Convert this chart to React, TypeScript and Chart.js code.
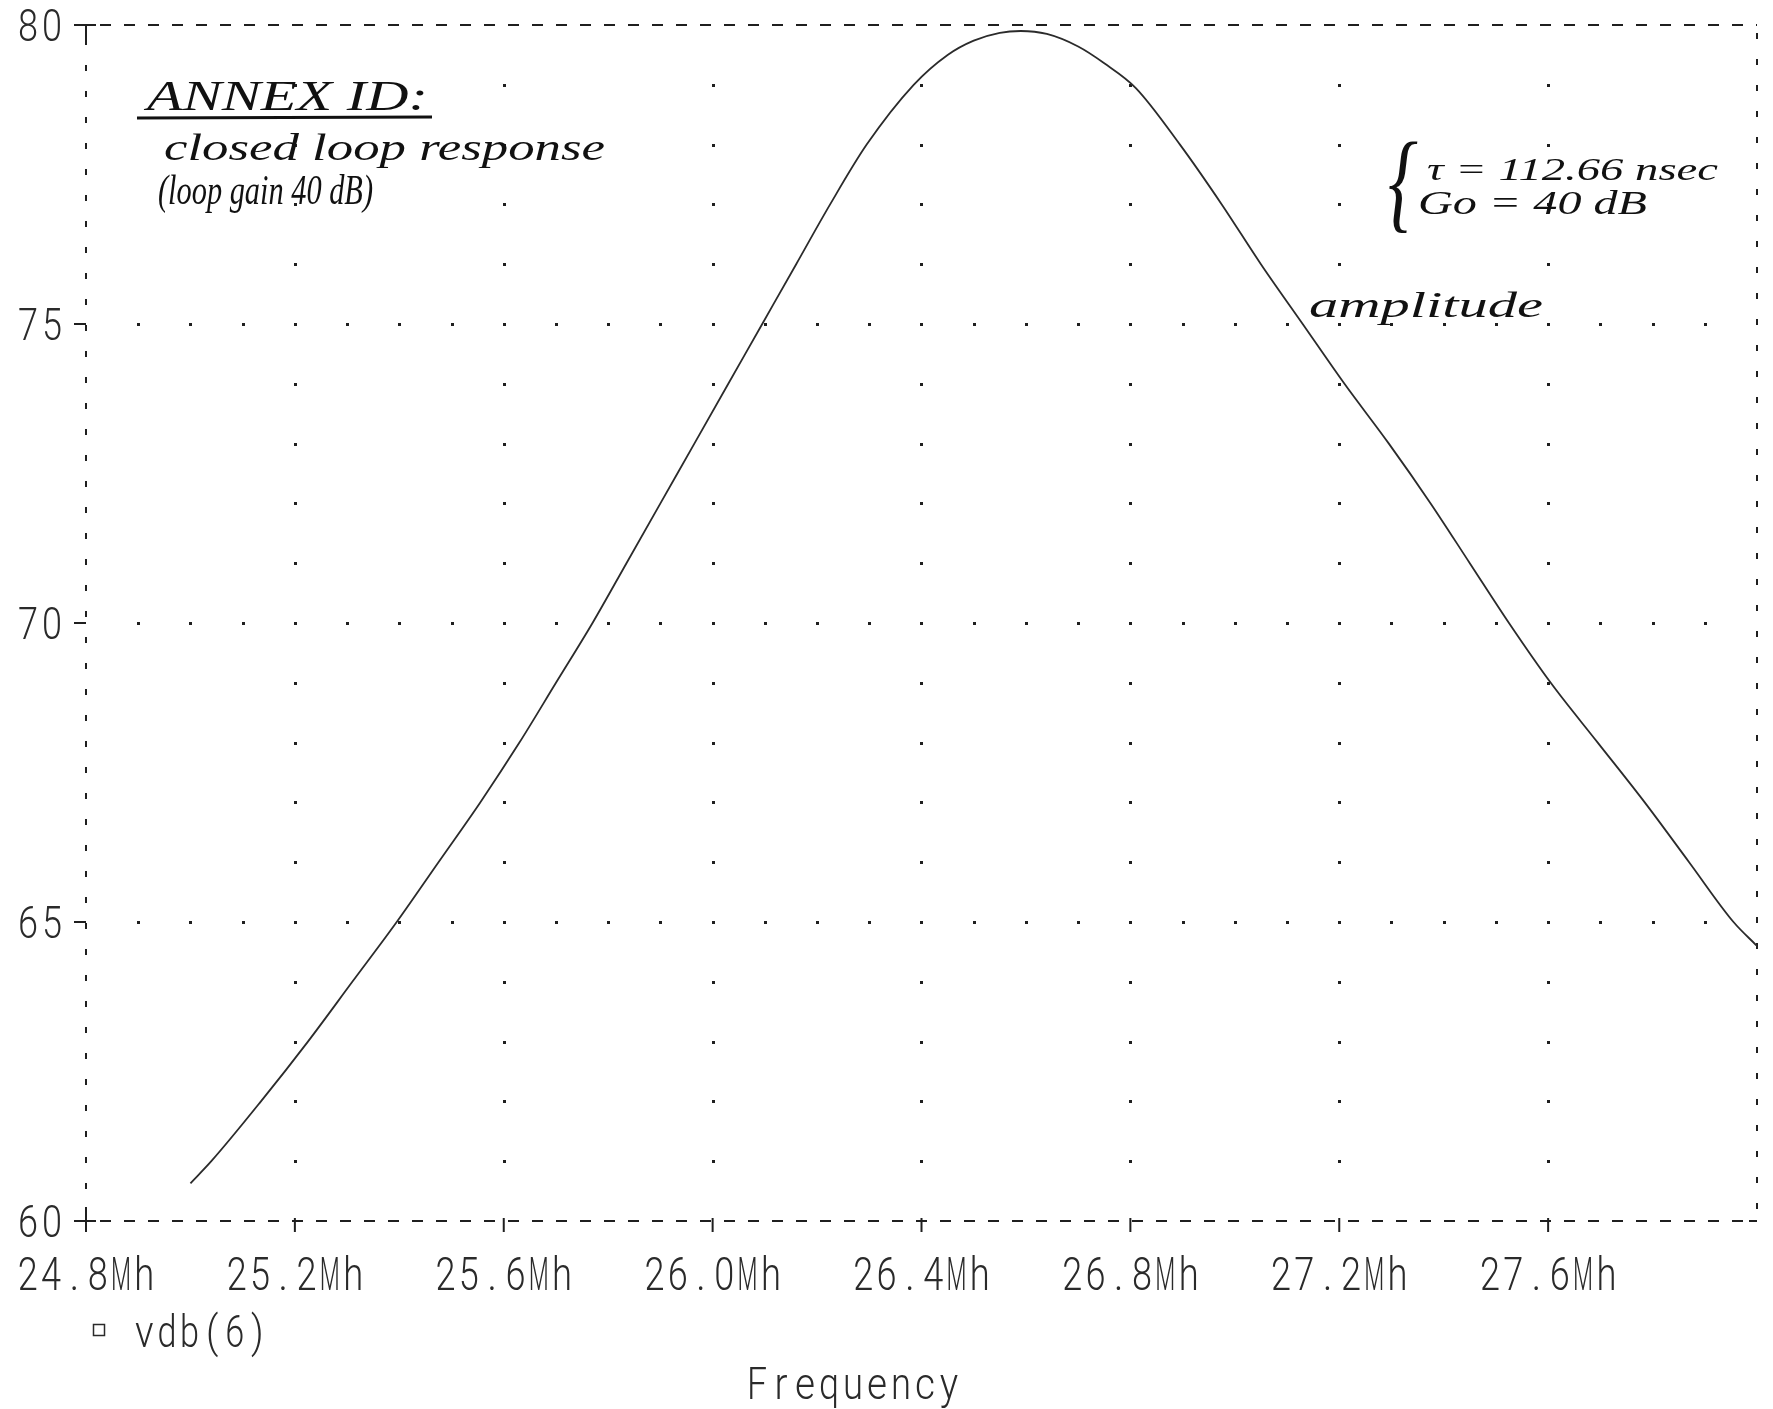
import React, { useEffect, useRef } from 'react';
import { Chart, registerables } from 'chart.js';

Chart.register(...registerables);

// ---- data ----
const FREQ_MHZ = [
  25.0, 25.04, 25.135, 25.225, 25.31, 25.395, 25.475, 25.555, 25.63, 25.7, 25.77, 25.835, 25.9,
  25.965, 26.03, 26.095, 26.16, 26.225, 26.295, 26.385, 26.45, 26.5, 26.55, 26.59, 26.64, 26.7,
  26.75, 26.81, 26.895, 26.975, 27.05, 27.13, 27.21, 27.295, 27.375, 27.45, 27.525, 27.605,
  27.695, 27.785, 27.87, 27.955, 28.0,
];
const VDB = [
  60.63, 61.0, 62.0, 63.0, 64.0, 65.0, 66.0, 67.0, 68.0, 69.0, 70.0, 71.0, 72.0,
  73.0, 74.0, 75.0, 76.0, 77.0, 78.0, 79.0, 79.5, 79.74, 79.87, 79.9, 79.85, 79.64,
  79.36, 78.95, 78.0, 77.0, 76.0, 75.0, 74.0, 73.0, 72.0, 71.0, 70.0, 69.0,
  68.0, 67.0, 66.0, 65.0, 64.6,
];
const X_TICKS = [24.8, 25.2, 25.6, 26.0, 26.4, 26.8, 27.2, 27.6];
const X_TICK_LABELS = ['24.8Mh', '25.2Mh', '25.6Mh', '26.0Mh', '26.4Mh', '26.8Mh', '27.2Mh', '27.6Mh'];
const Y_TICKS = [60, 65, 70, 75, 80];
const Y_TICK_LABELS = ['60', '65', '70', '75', '80'];
const GRID_COLS_MHZ = [25.2, 25.6, 26.0, 26.4, 26.8, 27.2, 27.6];
const GRID_ROWS_DB = [65, 70, 75];
const X_MIN = 24.8;
const X_MAX = 28.0;
const Y_MIN = 60;
const Y_MAX = 80;
const SERIES_LABEL = 'vdb(6)';
const X_TITLE = 'Frequency';
const NOTE_TITLE = 'ANNEX ID:';
const NOTE_LINE1 = 'closed loop response';
const NOTE_LINE2 = '(loop gain 40 dB)';
const NOTE_TAU = 'τ = 112.66 nsec';
const NOTE_GAIN = 'Go = 40 dB';
const NOTE_CURVE = 'amplitude';

// ---- styles ----
const W = 1773;
const H = 1409;
const INK = '#1f1f1f';
const TEXT_INK = '#2a2a2a';
const CURVE = '#2b2b2b';
const MONO = "'Roboto', 'DejaVu Sans', sans-serif";
const HAND = "'Liberation Serif', 'DejaVu Serif', serif";

function glyphRow(
  ctx: CanvasRenderingContext2D,
  text: string,
  startX: number,
  baseline: number,
  pitch: number,
  size: number,
  maxGlyph: number
) {
  ctx.font = `300 ${size}px ${MONO}`;
  ctx.textAlign = 'center';
  ctx.textBaseline = 'alphabetic';
  for (let i = 0; i < text.length; i++) {
    const ch = text[i];
    const w = ctx.measureText(ch).width || 1;
    const sx = Math.min(0.88, maxGlyph / w);
    ctx.save();
    ctx.translate(startX + pitch * (i + 0.5), baseline);
    ctx.scale(sx, 1);
    ctx.fillText(ch, 0, 0);
    ctx.restore();
  }
}

function fitText(
  ctx: CanvasRenderingContext2D,
  text: string,
  x: number,
  baseline: number,
  width: number,
  font: string
) {
  ctx.font = font;
  ctx.textAlign = 'left';
  ctx.textBaseline = 'alphabetic';
  const w = ctx.measureText(text).width || 1;
  ctx.save();
  ctx.translate(x, baseline);
  ctx.scale(width / w, 1);
  ctx.fillText(text, 0, 0);
  ctx.restore();
}

function seg(ctx: CanvasRenderingContext2D, x1: number, y1: number, x2: number, y2: number) {
  ctx.beginPath();
  ctx.moveTo(x1, y1);
  ctx.lineTo(x2, y2);
  ctx.stroke();
}

const plotDecor = {
  id: 'plotDecor',
  beforeDatasetsDraw(chart: any) {
    const { ctx, chartArea: a, scales } = chart;
    const x = scales.x;
    const y = scales.y;
    ctx.save();
    // dotted grid
    ctx.fillStyle = INK;
    for (const gx of GRID_COLS_MHZ) {
      const px = Math.round(x.getPixelForValue(gx));
      for (let v = Y_MIN + 1; v <= Y_MAX - 1; v++) {
        const py = Math.round(y.getPixelForValue(v));
        ctx.fillRect(px - 1, py - 1, 3, 3);
      }
    }
    for (const gy of GRID_ROWS_DB) {
      const py = Math.round(y.getPixelForValue(gy));
      for (let k = Math.round(X_MIN * 10) + 1; k <= Math.round(X_MAX * 10) - 1; k++) {
        const px = Math.round(x.getPixelForValue(k / 10));
        ctx.fillRect(px - 1, py - 1, 3, 3);
      }
    }
    // dashed frame
    ctx.strokeStyle = INK;
    ctx.lineWidth = 2;
    ctx.setLineDash([11, 13]);
    seg(ctx, a.left + 14, a.top, a.right, a.top);
    seg(ctx, a.left + 14, a.bottom, a.right, a.bottom);
    ctx.setLineDash([6, 20]);
    seg(ctx, a.left, a.top + 14, a.left, a.bottom - 8);
    seg(ctx, a.right, a.top + 8, a.right, a.bottom);
    ctx.setLineDash([]);
    // y ticks
    for (const t of Y_TICKS) {
      const py = y.getPixelForValue(t);
      seg(ctx, a.left - 12, py, a.left + (t === Y_MIN || t === Y_MAX ? 10 : 0), py);
    }
    seg(ctx, a.left, a.top, a.left, a.top + 14);
    seg(ctx, a.left, a.bottom - 14, a.left, a.bottom + 8);
    // x ticks
    for (const t of X_TICKS) {
      const px = x.getPixelForValue(t);
      seg(ctx, px, a.bottom - 3, px, a.bottom + 11);
    }
    seg(ctx, a.right - 8, a.bottom, a.right, a.bottom);
    ctx.restore();
  },
  afterDraw(chart: any) {
    const { ctx, chartArea: a, scales } = chart;
    const x = scales.x;
    const y = scales.y;
    ctx.save();
    ctx.fillStyle = TEXT_INK;
    // y tick labels (right aligned at a.left - 22)
    const yPitch = 24;
    Y_TICK_LABELS.forEach((lab, i) => {
      const py = y.getPixelForValue(Y_TICKS[i]);
      const right = a.left - 22;
      glyphRow(ctx, lab, right - yPitch * lab.length, py + 15.5, yPitch, 44, 20);
    });
    // x tick labels (centred on ticks)
    const xPitch = 23.3;
    X_TICK_LABELS.forEach((lab, i) => {
      const px = x.getPixelForValue(X_TICKS[i]);
      glyphRow(ctx, lab, px - (xPitch * lab.length) / 2, a.bottom + 69, xPitch, 47, 20);
    });
    // legend
    ctx.strokeStyle = TEXT_INK;
    ctx.lineWidth = 1.5;
    ctx.strokeRect(a.left + 7.5, a.bottom + 103.5, 11, 11);
    glyphRow(ctx, SERIES_LABEL, a.left + 47, a.bottom + 126, 22.6, 44, 19);
    // x title
    glyphRow(ctx, X_TITLE, a.left + 659, a.bottom + 178, 24, 44, 20);

    // handwritten notes
    ctx.fillStyle = '#111';
    fitText(ctx, NOTE_TITLE, 147, 110, 281, `italic 42px ${HAND}`);
    ctx.strokeStyle = '#111';
    ctx.lineWidth = 3;
    seg(ctx, 137, 118, 432, 117);
    fitText(ctx, NOTE_LINE1, 164, 160, 441, `italic 38px ${HAND}`);
    fitText(ctx, NOTE_LINE2, 158, 204, 215, `italic 43px ${HAND}`);
    fitText(ctx, NOTE_TAU, 1427, 180, 291, `italic 32px ${HAND}`);
    fitText(ctx, NOTE_GAIN, 1418, 214, 229, `italic 34px ${HAND}`);
    fitText(ctx, '{', 1388, 218, 30, `italic 110px ${HAND}`);
    fitText(ctx, NOTE_CURVE, 1309, 317, 234, `italic 36px ${HAND}`);
    ctx.restore();
  },
};

export default function App() {
  const ref = useRef<HTMLCanvasElement | null>(null);
  useEffect(() => {
    const canvas = ref.current;
    if (!canvas) return;
    const chart = new Chart(canvas, {
      type: 'line',
      data: {
        datasets: [
          {
            label: SERIES_LABEL,
            data: FREQ_MHZ.map((f, i) => ({ x: f, y: VDB[i] })),
            borderColor: CURVE,
            borderWidth: 1.8,
            pointRadius: 0,
            fill: false,
            cubicInterpolationMode: 'monotone',
          },
        ],
      },
      options: {
        responsive: false,
        animation: false,
        devicePixelRatio: 1,
        events: [],
        layout: { padding: { left: 86, right: 16, top: 25, bottom: 188 } },
        plugins: { legend: { display: false }, tooltip: { enabled: false }, title: { display: false } },
        scales: {
          x: { type: 'linear', display: false, min: X_MIN, max: X_MAX },
          y: { type: 'linear', display: false, min: Y_MIN, max: Y_MAX },
        },
      },
      plugins: [plotDecor],
    } as any);
    return () => chart.destroy();
  }, []);
  return (
    <div style={{ position: 'absolute', left: 0, top: 0, width: W, height: H, background: '#fff' }}>
      <canvas ref={ref} width={W} height={H} style={{ display: 'block' }} />
    </div>
  );
}
